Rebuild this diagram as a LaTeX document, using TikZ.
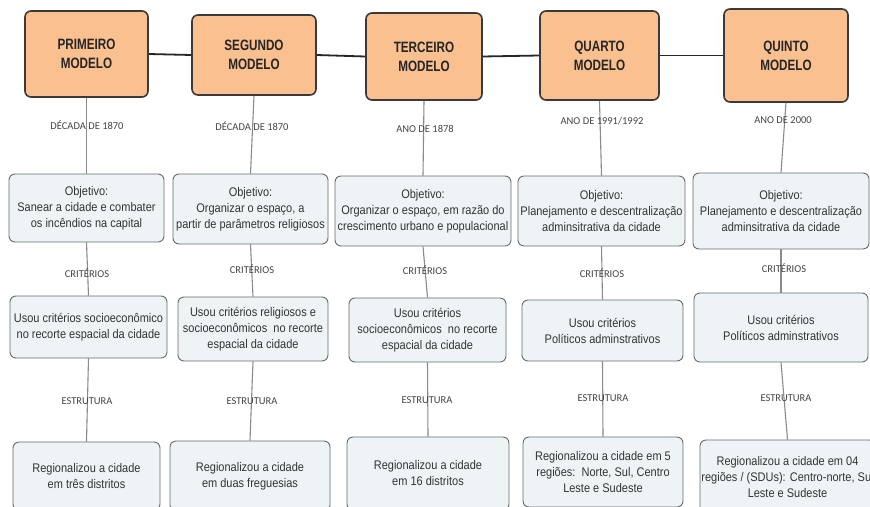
\documentclass[tikz,border=0pt]{standalone}
\usepackage{fontspec}
\setmainfont[FakeStretch=0.88]{Liberation Sans}
\newfontfamily\topfont[FakeStretch=0.78]{Liberation Sans}
\newfontfamily\tagfont{Carlito}
\definecolor{orangefill}{HTML}{FAC090}
\definecolor{orangeline}{HTML}{3A3A3A}
\definecolor{infofill}{HTML}{EEF3F6}
\definecolor{infoline}{HTML}{6A6A6A}
\definecolor{linkgray}{HTML}{8A8A8A}
\definecolor{tagtext}{HTML}{444444}
\definecolor{boxtext}{HTML}{333333}
\tikzset{
  modelbox/.style={draw=orangeline, line width=1.6pt, fill=orangefill, rounded corners=6pt,
    font=\topfont\bfseries\fontsize{15}{19}\selectfont, align=center, inner sep=0pt, text=black!85},
  infobox/.style={draw=infoline, line width=0.9pt, fill=infofill, rounded corners=6pt,
    font=\fontsize{12.5}{16}\selectfont, align=center, inner sep=0pt, text=boxtext},
  tag/.style={font=\tagfont\fontsize{10.5}{12}\selectfont, text=tagtext, inner sep=1pt},
  vlink/.style={draw=linkgray, line width=1.1pt},
  hlink/.style={draw=black!85, line width=1.8pt}
}
\begin{document}
\begin{tikzpicture}[x=1pt,y=-1pt]
\fill[white] (0,0) rectangle (870,506);
\useasboundingbox (0,0) rectangle (870,506);

% model boxes
\node[modelbox, minimum width=123pt, minimum height=86pt] (m1) at (86.5,54) {PRIMEIRO\\MODELO};
\node[modelbox, minimum width=124pt, minimum height=80pt] (m2) at (254,55) {SEGUNDO\\MODELO};
\node[modelbox, minimum width=116pt, minimum height=87pt] (m3) at (424,56.5) {TERCEIRO\\MODELO};
\node[modelbox, minimum width=119pt, minimum height=89pt] (m4) at (599.5,55.5) {QUARTO\\MODELO};
\node[modelbox, minimum width=124pt, minimum height=93pt] (m5) at (786,55.5) {QUINTO\\MODELO};

% objective boxes
\node[infobox, minimum width=155pt, minimum height=68pt] (o1) at (86.5,208) {Objetivo:\\Sanear a cidade e combater\\os incêndios na capital};
\node[infobox, minimum width=155pt, minimum height=70pt] (o2) at (250.5,209) {Objetivo:\\Organizar o espaço, a\\partir de parâmetros religiosos};
\node[infobox, minimum width=176pt, minimum height=70pt] (o3) at (423,211) {Objetivo:\\Organizar o espaço, em razão do\\crescimento urbano e populacional};
\node[infobox, minimum width=167pt, minimum height=70pt] (o4) at (601.5,211) {Objetivo:\\Planejamento e descentralização\\adminsitrativa da cidade};
\node[infobox, minimum width=176pt, minimum height=76pt] (o5) at (781,211) {Objetivo:\\Planejamento e descentralização\\adminsitrativa da cidade};

% criteria boxes
\node[infobox, minimum width=157pt, minimum height=62pt] (c1) at (88.5,327) {Usou critérios socioeconômico\\no recorte espacial da cidade};
\node[infobox, minimum width=150pt, minimum height=64pt] (c2) at (253,329) {Usou critérios religiosos e\\socioeconômicos\ \ no recorte\\espacial da cidade};
\node[infobox, minimum width=157pt, minimum height=64pt] (c3) at (427.5,330) {Usou critérios\\socioeconômicos\ \ no recorte\\espacial da cidade};
\node[infobox, minimum width=161pt, minimum height=61pt] (c4) at (602.5,330.5) {Usou critérios\\Políticos adminstrativos};
\node[infobox, minimum width=174pt, minimum height=69pt] (c5) at (781,327.5) {Usou critérios\\Políticos adminstrativos};

% structure boxes
\node[infobox, minimum width=147pt, minimum height=68pt] (r1) at (86.5,476) {Regionalizou a cidade\\em três distritos};
\node[infobox, minimum width=160pt, minimum height=70pt] (r2) at (250,476) {Regionalizou a cidade\\em duas freguesias};
\node[infobox, minimum width=162pt, minimum height=73pt] (r3) at (428,473.5) {Regionalizou a cidade\\em 16 distritos};
\node[infobox, minimum width=160pt, minimum height=70pt] (r4) at (603,472) {Regionalizou a cidade em 5\\regiões:\ \ Norte, Sul, Centro\\Leste e Sudeste};
\node[infobox, minimum width=175pt, minimum height=74pt] (r5) at (787.5,477) {Regionalizou a cidade em 04\\regiões / (SDUs): Centro-norte, Sul\\Leste e Sudeste};

% horizontal links between models
\draw[hlink] (m1.east) -- (m2.west);
\draw[hlink] (m2.east) -- (m3.west);
\draw[hlink] (m3.east) -- (m4.west);
\draw[hlink] (m4.east) -- (m5.west);

% vertical links
\foreach \i in {1,...,5}{
  \draw[vlink] (m\i.south) -- (o\i.north);
  \draw[vlink] (o\i.south) -- (c\i.north);
  \draw[vlink] (c\i.south) -- (r\i.north);
}

% tags
\node[tag] (d1) at (87,125) {DÉCADA DE 1870};
\node[tag] (d2) at (252,126) {DÉCADA DE 1870};
\node[tag] (d3) at (425,129) {ANO DE 1878};
\node[tag] (d4) at (602,121) {ANO DE 1991/1992};
\node[tag] (d5) at (783,120) {ANO DE 2000};

\node[tag] (k1) at (87,273) {CRITÉRIOS};
\node[tag] (k2) at (252,269) {CRITÉRIOS};
\node[tag] (k3) at (425,270) {CRITÉRIOS};
\node[tag] (k4) at (602,273) {CRITÉRIOS};
\node[tag] (k5) at (784,268) {CRITÉRIOS};

\node[tag] (e1) at (87,401) {ESTRUTURA};
\node[tag] (e2) at (252,401) {ESTRUTURA};
\node[tag] (e3) at (427,400) {ESTRUTURA};
\node[tag] (e4) at (603,398) {ESTRUTURA};
\node[tag] (e5) at (786,398) {ESTRUTURA};
\end{tikzpicture}
\end{document}
